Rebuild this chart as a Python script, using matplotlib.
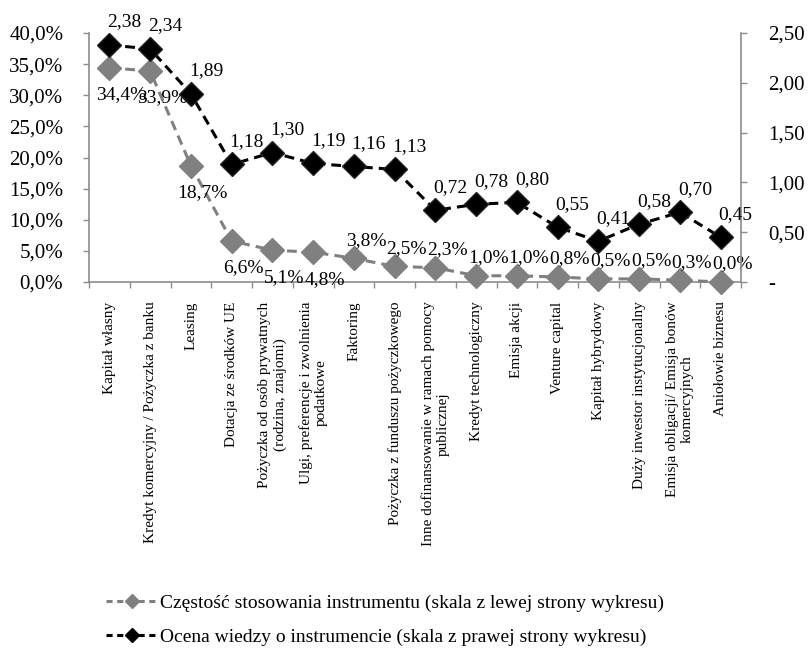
import matplotlib
matplotlib.use("Agg")
import matplotlib.pyplot as plt
from matplotlib.lines import Line2D
from matplotlib.ticker import FixedLocator

plt.rcParams['font.family'] = ['Liberation Serif', 'DejaVu Serif']

categories = [
    "Kapitał własny",
    "Kredyt komercyjny / Pożyczka z banku",
    "Leasing",
    "Dotacja ze środków UE",
    "Pożyczka od osób prywatnych\n(rodzina, znajomi)",
    "Ulgi, preferencje i zwolnienia\npodatkowe",
    "Faktoring",
    "Pożyczka z funduszu pożyczkowego",
    "Inne dofinansowanie w ramach pomocy\npublicznej",
    "Kredyt technologiczny",
    "Emisja akcji",
    "Venture capital",
    "Kapitał hybrydowy",
    "Duży inwestor instytucjonalny",
    "Emisja obligacji/ Emisja bonów\nkomercyjnych",
    "Aniołowie biznesu",
]
frequency_pct = [34.4, 33.9, 18.7, 6.6, 5.1, 4.8, 3.8, 2.5, 2.3, 1.0, 1.0, 0.8, 0.5, 0.5, 0.3, 0.0]
knowledge = [2.38, 2.34, 1.89, 1.18, 1.30, 1.19, 1.16, 1.13, 0.72, 0.78, 0.80, 0.55, 0.41, 0.58, 0.70, 0.45]
gray_label_below = [True, True, True, True, True, True] + [False] * 10
left_ticks = [0, 5, 10, 15, 20, 25, 30, 35, 40]
right_ticks = [0, 0.5, 1.0, 1.5, 2.0, 2.5]
legend_labels = [
    "Częstość stosowania instrumentu (skala z lewej strony wykresu)",
    "Ocena wiedzy o instrumencie (skala z prawej strony wykresu)",
]

GRAY = "#808080"
SPINE = "#8c8c8c"
FS = 14
TFS = 15

fig = plt.figure(figsize=(8.09, 6.56), dpi=100)
ax = fig.add_axes([89/809, 1 - 282/656, (741-89)/809, (282-33)/656])
ax2 = ax.twinx()

n = len(categories)
x = list(range(n))
dash = (0, (3.2, 2.0))

ax.plot(x, frequency_pct, color=GRAY, lw=2.2, linestyle=dash, marker='D', ms=12,
        mfc=GRAY, mec=GRAY, zorder=3, clip_on=False)
ax2.plot(x, knowledge, color='black', lw=2.2, linestyle=dash, marker='D', ms=12,
         mfc='black', mec='#222222', zorder=3, clip_on=False)

ax.set_xlim(-0.5, n - 0.5)
ax.set_ylim(0, 40)
ax2.set_ylim(0, 2.5)

for xi, v, below in zip(x, frequency_pct, gray_label_below):
    s = f"{v:.1f}%".replace('.', ',')
    off = (12, -27) if below else (12, 18)
    ax.annotate(s, (xi, v), xytext=off, textcoords='offset pixels',
                ha='center', va='center', fontsize=FS, zorder=5)
for xi, v in zip(x, knowledge):
    s = f"{v:.2f}".replace('.', ',')
    ax2.annotate(s, (xi, v), xytext=(15, 23), textcoords='offset pixels',
                 ha='center', va='center', fontsize=FS, zorder=5)

ax.set_yticks(left_ticks)
ax.set_yticklabels([f"{t:.1f}%".replace('.', ',') for t in left_ticks], fontsize=TFS)
ax2.set_yticks(right_ticks)
ax2.set_yticklabels(["-" if t == 0 else f"{t:.2f}".replace('.', ',') for t in right_ticks], fontsize=TFS)

ax.set_xticks(x)
ax.set_xticklabels(categories, rotation=90, fontsize=11, va='top', ha='center',
                   multialignment='center')
ax.tick_params(axis='x', which='major', length=0, pad=14)
ax.xaxis.set_minor_locator(FixedLocator([i - 0.5 for i in range(n + 1)]))
ax.tick_params(axis='x', which='minor', length=4.5, color=SPINE, width=1)

ax.tick_params(axis='y', length=4.5, color=SPINE, width=1, pad=14)
ax2.tick_params(axis='y', length=4.5, color=SPINE, width=1, pad=15)

for a in (ax, ax2):
    a.spines['top'].set_visible(False)
    for sp in ('left', 'right', 'bottom'):
        a.spines[sp].set_color(SPINE)
        a.spines[sp].set_linewidth(1.2)
ax2.spines['left'].set_visible(False)
ax2.spines['bottom'].set_visible(False)
ax.spines['right'].set_visible(False)

handles = [
    Line2D([], [], color=GRAY, lw=2.2, linestyle=(0, (2.0, 1.5)), marker='D', ms=7, mfc=GRAY, mec=GRAY),
    Line2D([], [], color='black', lw=2.2, linestyle=(0, (2.0, 1.5)), marker='D', ms=7, mfc='black', mec='black'),
]
fig.legend(handles, legend_labels, loc='center left', bbox_to_anchor=(96/809, 1 - 620/656),
           frameon=False, fontsize=14, handlelength=2.7, handletextpad=0.1,
           labelspacing=0.85, borderpad=0)

fig.savefig("out.png", dpi=100)
